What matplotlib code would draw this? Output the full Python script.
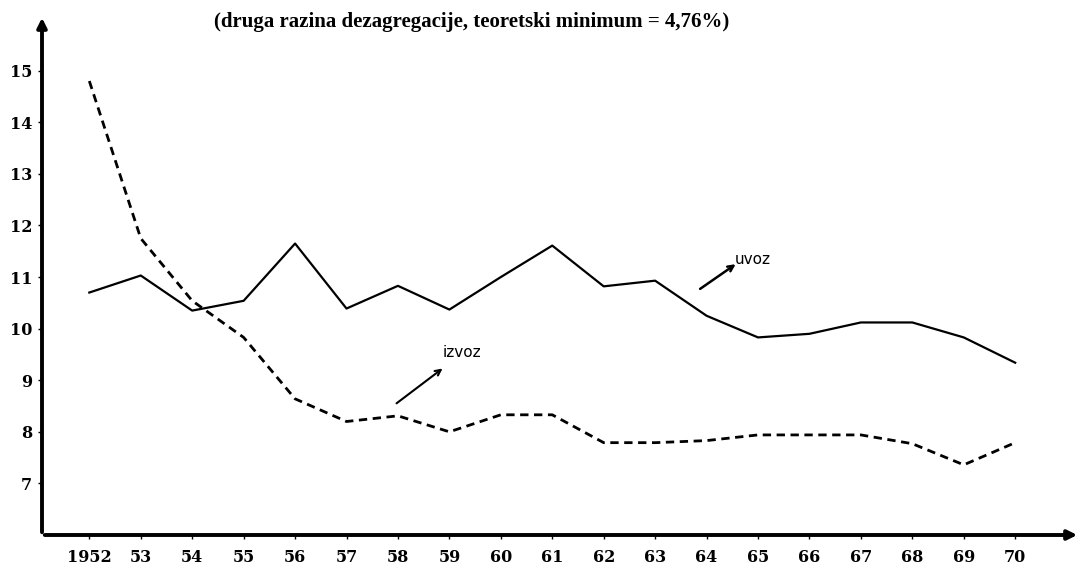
import matplotlib
matplotlib.use("Agg")
import matplotlib.pyplot as plt

godine = list(range(1952, 1971))
oznake_x = ["1952"] + [str(g)[2:] for g in range(1953, 1971)]

# uvoz (puna linija) i izvoz (isprekidana), procitano sa slike
uvoz = [10.70, 11.03, 10.35, 10.54, 11.65, 10.39, 10.83, 10.37, 11.00, 11.61,
        10.82, 10.93, 10.25, 9.83, 9.90, 10.12, 10.12, 9.83, 9.34]
izvoz = [14.80, 11.75, 10.54, 9.83, 8.64, 8.20, 8.31, 8.00, 8.33, 8.33,
         7.79, 7.79, 7.83, 7.94, 7.94, 7.94, 7.77, 7.36, 7.79]
oznake_y = [7, 8, 9, 10, 11, 12, 13, 14, 15]

naslov = "(druga razina dezagregacije, teoretski minimum = 4,76%)"

fig = plt.figure(figsize=(10.86, 5.70), dpi=100)
ax = fig.add_axes([42 / 1086, 1 - 535 / 570, (1080 - 42) / 1086, (535 - 15) / 570])

ax.plot(godine, uvoz, color="black", lw=1.6)
ax.plot(godine, izvoz, color="black", lw=2.0, dashes=(3, 2))

ax.set_xlim(1951.08, 1971.26)
ax.set_ylim(6.0, 16.08)

for s in ax.spines.values():
    s.set_visible(False)

# osi sa strelicama
ax.annotate("", xy=(0, 1.0), xytext=(0, 0), xycoords="axes fraction",
            arrowprops=dict(arrowstyle="-|>", color="black", lw=2.8,
                            mutation_scale=14), annotation_clip=False)
ax.annotate("", xy=(1.0, 0), xytext=(0, 0), xycoords="axes fraction",
            arrowprops=dict(arrowstyle="-|>", color="black", lw=2.8,
                            mutation_scale=14), annotation_clip=False)

ax.set_xticks(godine)
ax.set_xticklabels(oznake_x)
ax.set_yticks(oznake_y)
ax.set_yticklabels([str(v) for v in oznake_y])
ax.tick_params(axis="x", direction="out", length=3, width=1, pad=7,
               labelsize=11.5)
ax.tick_params(axis="y", direction="out", length=3, width=1, pad=4,
               labelsize=11.5)
for lab in ax.get_xticklabels() + ax.get_yticklabels():
    lab.set_fontfamily("DejaVu Serif")
    lab.set_fontweight("bold")

# oznake serija
ax.annotate("", xy=(1958.91, 9.26), xytext=(1957.93, 8.52),
            arrowprops=dict(arrowstyle="->", color="black", lw=1.5))
ax.text(1959.24, 9.53, "izvoz", ha="center", va="center", fontsize=11,
        fontfamily="DejaVu Sans")
ax.annotate("", xy=(1964.61, 11.28), xytext=(1963.83, 10.74),
            arrowprops=dict(arrowstyle="->", color="black", lw=1.8))
ax.text(1964.55, 11.34, "uvoz", ha="left", va="center", fontsize=11,
        fontfamily="DejaVu Sans")

fig.text(472 / 1086, 1 - 22 / 570, naslov, ha="center", va="center",
         fontsize=15, fontweight="bold", fontfamily="Liberation Serif")

fig.savefig("out.png", dpi=100, facecolor="white")
plt.close(fig)
